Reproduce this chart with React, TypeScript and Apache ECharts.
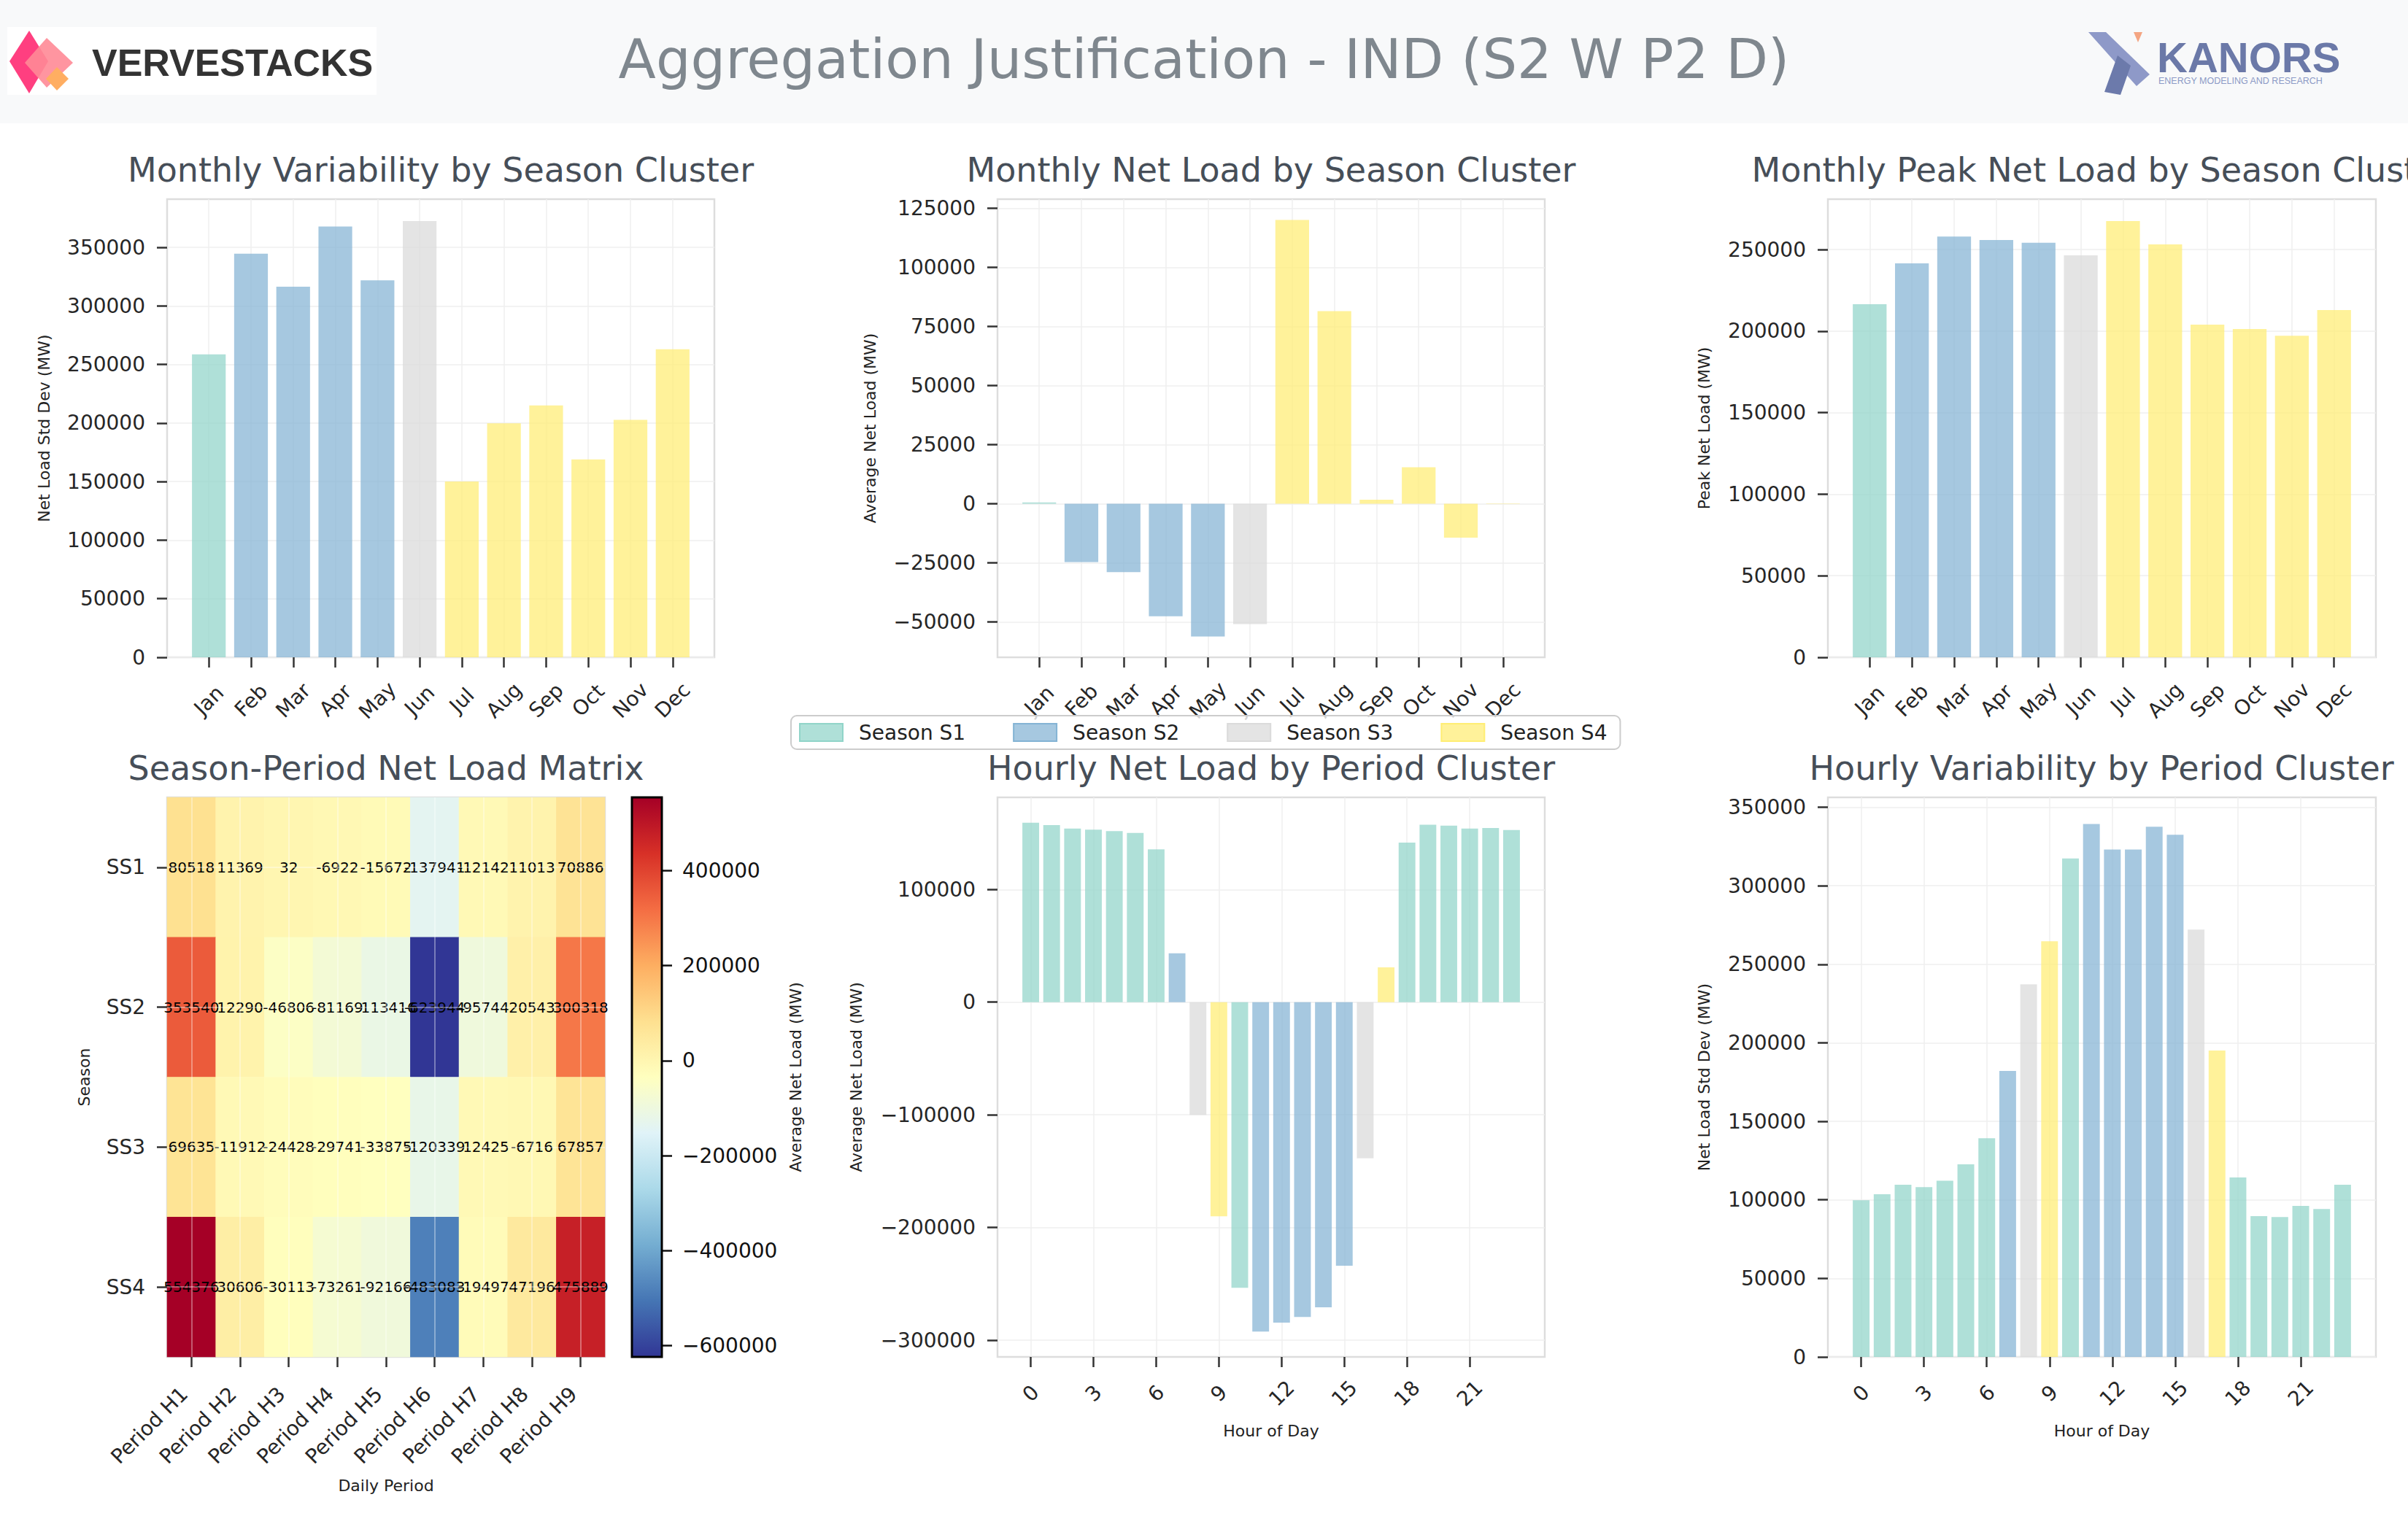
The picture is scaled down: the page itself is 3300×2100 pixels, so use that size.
import React, { useEffect, useRef } from 'react';
import * as echarts from 'echarts';

// ---- data ----
const months = ['Jan', 'Feb', 'Mar', 'Apr', 'May', 'Jun', 'Jul', 'Aug', 'Sep', 'Oct', 'Nov', 'Dec'];
const monthIndex = [0, 1, 2, 3, 4, 5, 6, 7, 8, 9, 10, 11];
const monthSeason = [0, 1, 1, 1, 1, 2, 3, 3, 3, 3, 3, 3];
const monthlyStd = [258600, 344500, 316400, 367800, 321800, 372500, 150100, 199800, 215000, 169000, 202800, 263000];
const monthlyMean = [500, -24700, -29000, -47650, -56200, -51000, 120100, 81500, 1700, 15400, -14400, -200];
const monthlyPeak = [216500, 241500, 258000, 255800, 254100, 246400, 267500, 253200, 203900, 201300, 197100, 212900];

const hours = [0, 1, 2, 3, 4, 5, 6, 7, 8, 9, 10, 11, 12, 13, 14, 15, 16, 17, 18, 19, 20, 21, 22, 23];
const hourSeason = [0, 0, 0, 0, 0, 0, 0, 1, 2, 3, 0, 1, 1, 1, 1, 1, 2, 3, 0, 0, 0, 0, 0, 0];
const hourlyMean = [159200, 157100, 154100, 153200, 151900, 150200, 135600, 43300, -100000, -190100, -253600, -292300,
    -284500, -279400, -270800, -233900, -138600, 30900, 141600, 157500, 156700, 154100, 154500, 152800];
const hourlyStd = [99800, 103600, 109600, 108100, 112200, 122600, 139200, 182100, 237200, 264700, 317400, 339300,
    323000, 323000, 337600, 332500, 272100, 195100, 114300, 89700, 89100, 96200, 94200, 109600];

const periods = ['Period H1', 'Period H2', 'Period H3', 'Period H4', 'Period H5', 'Period H6', 'Period H7', 'Period H8', 'Period H9'];
const seasons = ['SS1', 'SS2', 'SS3', 'SS4'];
const matrix = [
    [80518, 11369, 32, -6922, -15672, -137941, -12142, 11013, 70886],
    [353540, 12290, -46806, -81169, -113416, -623944, -95744, 20543, 300318],
    [69635, -11912, -24428, -29741, -33875, -120339, -12425, -6716, 67857],
    [554376, 30606, -30113, -73261, -92166, -483083, -19497, 47196, 475889],
];

const seasonNames = ['Season S1', 'Season S2', 'Season S3', 'Season S4'];
const seasonColors = ['#8dd3c7', '#80b1d3', '#d9d9d9', '#ffed6f'];

const stdTicks = [0, 50000, 100000, 150000, 200000, 250000, 300000, 350000];
const meanTicks = [-50000, -25000, 0, 25000, 50000, 75000, 100000, 125000];
const peakTicks = [0, 50000, 100000, 150000, 200000, 250000];
const hourMeanTicks = [-300000, -200000, -100000, 0, 100000];
const hourStdTicks = [0, 50000, 100000, 150000, 200000, 250000, 300000, 350000];
const colorTicks = [-600000, -400000, -200000, 0, 200000, 400000];
const hourTicks = [0, 3, 6, 9, 12, 15, 18, 21];

// RdYlBu reversed, low -> high
const rdylbuR = ['#313695', '#4575b4', '#74add1', '#abd9e9', '#e0f3f8', '#ffffbf', '#fee090', '#fdae61', '#f46d43', '#d73027', '#a50026'];

const FONT = 'DejaVu Sans';

// ---- helpers ----
const rgba = (hex: string, a: number) => {
    const n = parseInt(hex.slice(1), 16);
    return `rgba(${(n >> 16) & 255},${(n >> 8) & 255},${n & 255},${a})`;
};
const signed = (v: number) => String(v).replace('-', '\u2212');

// matplotlib-like autoscale: 5% margins, bars stick to 0
const valueLimits = (vals: number[]) => {
    const lo = Math.min(0, ...vals);
    const hi = Math.max(0, ...vals);
    const pad = (hi - lo) * 0.05;
    return [lo < 0 ? lo - pad : 0, hi > 0 ? hi + pad : 0];
};
const indexLimits = (n: number) => {
    const span = n - 1 + 0.8;
    return [-0.4 - span * 0.05, n - 1 + 0.4 + span * 0.05];
};

const tickStyle = { show: true, inside: false, length: 14, lineStyle: { color: '#333333', width: 2.5 } };
const labelStyle = { fontSize: 28, color: '#262626', fontFamily: FONT };
const gridLine = { show: true, lineStyle: { color: '#efefef', width: 1.5 } };
const nameStyle = { fontSize: 22, color: '#222222', fontFamily: FONT };
const noLine = { show: false, onZero: false };
const frame = { show: true, borderColor: '#dddddd', borderWidth: 2.5, backgroundColor: '#ffffff', outerBoundsMode: 'none' };

const barXAxis = (gridIndex: number, n: number, ticks: number[], fmt: (v: number) => string, margin: number, name?: string) => {
    const [lo, hi] = indexLimits(n);
    return {
        type: 'value', gridIndex, min: lo, max: hi, position: 'bottom',
        axisLine: noLine,
        axisTick: { ...tickStyle, customValues: ticks },
        axisLabel: { ...labelStyle, rotate: 45, align: 'center', verticalAlign: 'middle', margin, customValues: ticks, formatter: fmt },
        splitLine: gridLine,
        name, nameLocation: 'middle', nameGap: 90, nameTextStyle: nameStyle, nameMoveOverlap: false,
    };
};

const barYAxis = (gridIndex: number, values: number[], ticks: number[], name: string, nameGap: number) => {
    const [lo, hi] = valueLimits(values);
    return {
        type: 'value', gridIndex, min: lo, max: hi, position: 'left',
        axisLine: noLine,
        axisTick: { ...tickStyle, customValues: ticks },
        axisLabel: { ...labelStyle, margin: 30, customValues: ticks, formatter: signed },
        splitLine: gridLine,
        name, nameLocation: 'middle', nameGap, nameTextStyle: nameStyle, nameMoveOverlap: false,
    };
};

const barSeries = (gridIndex: number, xs: number[], values: number[], seasonOf: number[]) => ({
    type: 'bar', xAxisIndex: gridIndex, yAxisIndex: gridIndex, barWidth: '80%', silent: true,
    data: values.map((v, i) => ({ value: [xs[i], v], itemStyle: { color: rgba(seasonColors[seasonOf[i]], 0.7) } })),
});

const monthLabel = (v: number) => months[Math.round(v)];
const hourLabel = (v: number) => String(v);

const subTitle = (text: string, x: number, y: number) => ({
    type: 'text', x, y,
    style: { text, fontSize: 46, fontFamily: FONT, fill: '#464e58', align: 'center', verticalAlign: 'middle' },
});

const allCells = matrix.flat();
const cMin = Math.min(...allCells);
const cMax = Math.max(...allCells);

interface EChartsReactProps {
    options: any;
    style?: React.CSSProperties;
}

const EChartsReact: React.FC<EChartsReactProps> = ({ options, style }) => {
    const chartRef = useRef<HTMLDivElement>(null);

    useEffect(() => {
        if (!chartRef.current) return;
        const chart = echarts.init(chartRef.current, undefined, { renderer: 'svg' });
        chart.setOption(options);
        return () => chart.dispose();
    }, [options]);

    return <div ref={chartRef} style={style} />;
};

const options = {
    animation: false,
    backgroundColor: '#ffffff',
    textStyle: { fontFamily: FONT },
    graphic: [
        { type: 'rect', shape: { x: 0, y: 0, width: 3300, height: 169 }, style: { fill: '#f8f9fa' }, z: -10 },
        // VerveStacks logo
        { type: 'rect', shape: { x: 10, y: 37, width: 506, height: 93 }, style: { fill: '#ffffff' } },
        { type: 'polygon', shape: { points: [[40, 42], [66, 84], [40, 128], [13, 84]] }, style: { fill: '#ff3f80' } },
        { type: 'polygon', shape: { points: [[64, 52], [100, 86], [64, 120], [34, 86]] }, style: { fill: 'rgba(255,138,150,0.9)' } },
        { type: 'polygon', shape: { points: [[78, 92], [94, 108], [78, 124], [63, 108]] }, style: { fill: '#ffae62' } },
        { type: 'text', x: 126, y: 86, style: { text: 'VERVESTACKS', fontSize: 52, fontWeight: 'bold', fontFamily: 'Liberation Sans', fill: '#333333', align: 'left', verticalAlign: 'middle' } },
        // main title
        { type: 'text', x: 1650, y: 81, style: { text: 'Aggregation Justification - IND (S2 W P2 D)', fontSize: 75, fontFamily: FONT, fill: '#7f878e', align: 'center', verticalAlign: 'middle' } },
        // Kanors logo
        { type: 'polygon', shape: { points: [[2862, 44], [2886, 44], [2946, 102], [2928, 118]] }, style: { fill: '#8e99c8' } },
        { type: 'polygon', shape: { points: [[2884, 126], [2902, 76], [2920, 90], [2906, 130]] }, style: { fill: '#6c7aab' } },
        { type: 'polygon', shape: { points: [[2924, 44], [2936, 44], [2930, 58]] }, style: { fill: '#f4a582' } },
        { type: 'text', x: 2956, y: 78, style: { text: 'KANORS', fontSize: 58, fontWeight: 'bold', fontFamily: 'Liberation Sans', fill: '#6b79a8', align: 'left', verticalAlign: 'middle' } },
        { type: 'text', x: 2958, y: 111, style: { text: 'ENERGY MODELING AND RESEARCH', fontSize: 12.5, fontFamily: 'Liberation Sans', fill: '#8c9ac6', align: 'left', verticalAlign: 'middle' } },
        // subplot titles
        subTitle('Monthly Variability by Season Cluster', 604, 233),
        subTitle('Monthly Net Load by Season Cluster', 1742, 233),
        subTitle('Monthly Peak Net Load by Season Cluster', 2880, 233),
        subTitle('Season-Period Net Load Matrix', 529, 1053),
        subTitle('Hourly Net Load by Period Cluster', 1742, 1053),
        subTitle('Hourly Variability by Period Cluster', 2880, 1053),
    ],
    legend: {
        data: seasonNames,
        left: 1084, top: 981,
        icon: 'rect', itemWidth: 59, itemHeight: 24, itemGap: 65,
        textStyle: { fontSize: 28, color: '#222222', fontFamily: FONT, padding: [0, 0, 0, 17] },
        borderColor: '#cccccc', borderWidth: 2, borderRadius: 8,
        padding: [9, 18, 9, 11],
        backgroundColor: 'rgba(255,255,255,0.8)',
        selectedMode: false,
    },
    grid: [
        { left: 229, top: 273, width: 750, height: 628, ...frame },
        { left: 1367, top: 273, width: 750, height: 628, ...frame },
        { left: 2505, top: 273, width: 751, height: 628, ...frame },
        { left: 229, top: 1093, width: 600, height: 767, ...frame },
        { left: 866, top: 1093, width: 41, height: 767, show: false, outerBoundsMode: 'none' },
        { left: 1367, top: 1093, width: 750, height: 767, ...frame },
        { left: 2505, top: 1093, width: 751, height: 767, ...frame },
        { left: 0, top: 0, width: 10, height: 10, show: false, outerBoundsMode: 'none' },
    ],
    xAxis: [
        barXAxis(0, months.length, monthIndex, monthLabel, 59),
        barXAxis(1, months.length, monthIndex, monthLabel, 59),
        barXAxis(2, months.length, monthIndex, monthLabel, 59),
        {
            type: 'category', gridIndex: 3, data: periods, position: 'bottom',
            axisLine: noLine,
            axisTick: { ...tickStyle, alignWithLabel: true },
            axisLabel: { ...labelStyle, rotate: 45, align: 'right', verticalAlign: 'bottom', margin: 56, interval: 0 },
            splitLine: { show: false },
            name: 'Daily Period', nameLocation: 'middle', nameGap: 165, nameTextStyle: nameStyle, nameMoveOverlap: false,
        },
        { type: 'value', gridIndex: 4, min: 0, max: 1, show: false },
        barXAxis(5, hours.length, hourTicks, hourLabel, 50, 'Hour of Day'),
        barXAxis(6, hours.length, hourTicks, hourLabel, 50, 'Hour of Day'),
        { type: 'category', gridIndex: 7, data: [''], show: false },
    ],
    yAxis: [
        barYAxis(0, monthlyStd, stdTicks, 'Net Load Std Dev (MW)', 158),
        barYAxis(1, monthlyMean, meanTicks, 'Average Net Load (MW)', 164),
        barYAxis(2, monthlyPeak, peakTicks, 'Peak Net Load (MW)', 159),
        {
            type: 'category', gridIndex: 3, data: seasons, inverse: true, position: 'left',
            axisLine: noLine,
            axisTick: { ...tickStyle, alignWithLabel: true },
            axisLabel: { ...labelStyle, margin: 30 },
            splitLine: { show: false },
            name: 'Season', nameLocation: 'middle', nameGap: 103, nameTextStyle: nameStyle, nameMoveOverlap: false,
        },
        {
            type: 'value', gridIndex: 4, position: 'right', min: cMin, max: cMax,
            axisLine: noLine,
            axisTick: { show: true, length: 14, lineStyle: { color: '#111111', width: 2.5 }, customValues: colorTicks },
            axisLabel: { ...labelStyle, color: '#111111', margin: 28, customValues: colorTicks, formatter: signed },
            splitLine: { show: false },
            name: 'Average Net Load (MW)', nameLocation: 'middle', nameGap: 172, nameTextStyle: nameStyle, nameMoveOverlap: false,
        },
        barYAxis(5, hourlyMean, hourMeanTicks, 'Average Net Load (MW)', 183),
        barYAxis(6, hourlyStd, hourStdTicks, 'Net Load Std Dev (MW)', 159),
        { type: 'value', gridIndex: 7, show: false },
    ],
    visualMap: {
        type: 'continuous', show: false, seriesIndex: 3, dimension: 2,
        min: cMin, max: cMax,
        inRange: { color: rdylbuR },
    },
    series: [
        barSeries(0, monthIndex, monthlyStd, monthSeason),
        barSeries(1, monthIndex, monthlyMean, monthSeason),
        barSeries(2, monthIndex, monthlyPeak, monthSeason),
        {
            type: 'heatmap', xAxisIndex: 3, yAxisIndex: 3, silent: true,
            data: matrix.flatMap((row, r) => row.map((v, c) => [c, r, v])),
            label: { show: true, fontSize: 20, fontFamily: FONT, color: '#000000', textBorderWidth: 0, formatter: (p: any) => String(p.value[2]) },
            markLine: {
                silent: true, symbol: ['none', 'none'], label: { show: false },
                lineStyle: { color: 'rgba(255,255,255,0.35)', width: 2, type: 'solid' },
                data: [...periods.map((p) => ({ xAxis: p })), ...seasons.map((s) => ({ yAxis: s }))],
            },
        },
        {
            type: 'custom', xAxisIndex: 4, yAxisIndex: 4, silent: true,
            data: [[0, 0]],
            renderItem: (params: any, api: any) => {
                const tl = api.coord([0, cMax]);
                const br = api.coord([1, cMin]);
                const stops = rdylbuR.map((c, i) => ({ offset: i / (rdylbuR.length - 1), color: rdylbuR[rdylbuR.length - 1 - i] }));
                return {
                    type: 'rect',
                    shape: { x: tl[0], y: tl[1], width: br[0] - tl[0], height: br[1] - tl[1] },
                    style: { fill: new echarts.graphic.LinearGradient(0, 0, 0, 1, stops), stroke: '#000000', lineWidth: 3 },
                };
            },
        },
        barSeries(5, hours, hourlyMean, hourSeason),
        barSeries(6, hours, hourlyStd, hourSeason),
        ...seasonNames.map((name, i) => ({
            type: 'bar', name, xAxisIndex: 7, yAxisIndex: 7, data: [],
            itemStyle: { color: rgba(seasonColors[i], 0.7), borderColor: rgba(seasonColors[i], 0.95), borderWidth: 2 },
        })),
    ],
};

const App: React.FC = () => {
    useEffect(() => {
        document.body.style.margin = '0';
    }, []);
    return <EChartsReact options={options} style={{ width: 3300, height: 2100 }} />;
};

export default App;
